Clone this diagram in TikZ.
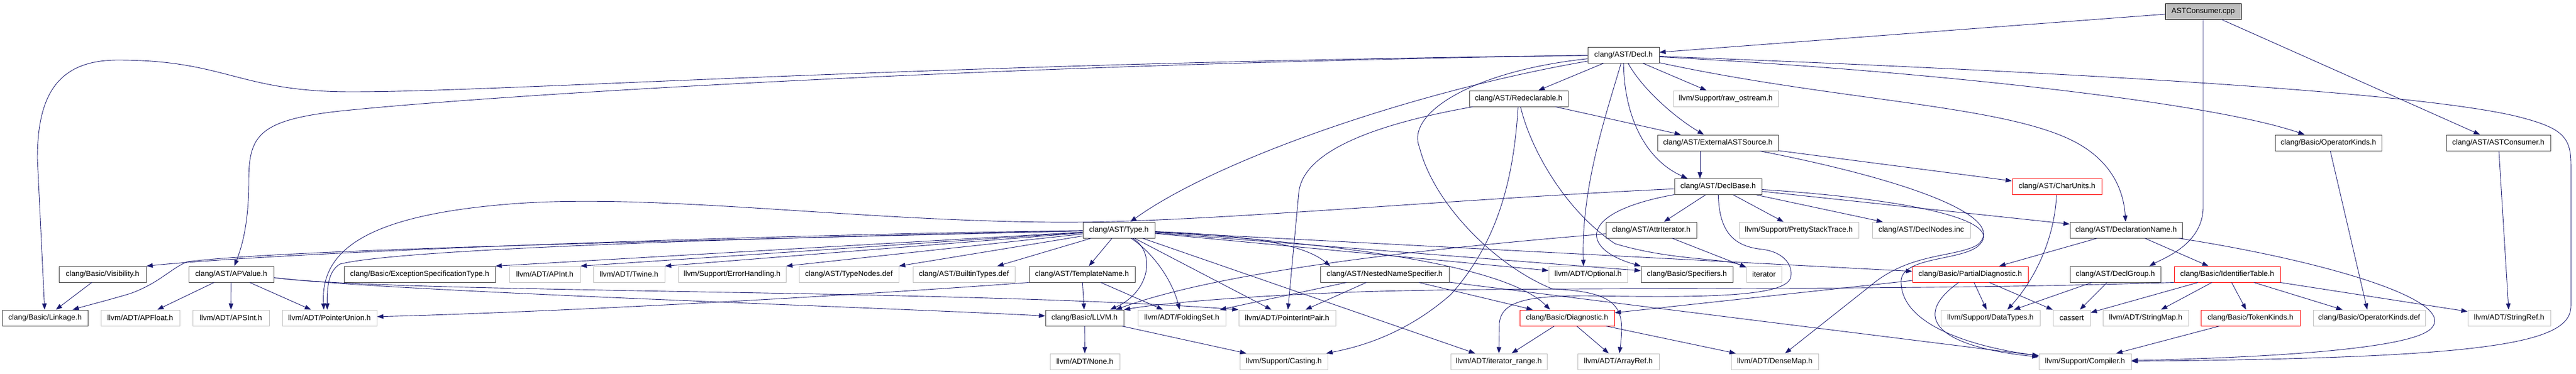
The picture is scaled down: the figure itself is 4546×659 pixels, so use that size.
\documentclass[tikz,border=0pt]{standalone}
\usepackage{fontspec}
\setmainfont{Liberation Sans}
\usetikzlibrary{arrows.meta}
\definecolor{edgec}{HTML}{191970}
\definecolor{grayb}{HTML}{BFBFBF}
\definecolor{darkb}{HTML}{404040}
\newcommand\nfnt{\fontsize{13.3}{16}\selectfont}
\tikzset{
  nbox/.style={rectangle, draw=darkb, line width=1pt, fill=white, inner sep=0pt, minimum height=28pt, font=\nfnt, text=black},
  gbox/.style={nbox, draw=grayb},
  rbox/.style={nbox, draw=red},
  dep/.style={draw=edgec, line width=0.9pt, -{Triangle[length=11pt,width=8pt]}},
}
\begin{document}
\begin{tikzpicture}[x=1pt,y=-1pt]
\useasboundingbox (0,0) rectangle (4546,659);
% row 0
\node[nbox, fill=grayb, draw=black, minimum width=134pt] (cpp) at (3888,20) {ASTConsumer.cpp};
% row 1
\node[nbox, minimum width=126pt] (decl) at (2865,97) {clang/AST/Decl.h};
% row 2
\node[nbox, minimum width=174pt] (redecl) at (2680,174) {clang/AST/Redeclarable.h};
\node[gbox, minimum width=185pt] (rawos) at (3045.5,174) {llvm/Support/raw\_ostream.h};
% row 3
\node[nbox, minimum width=213pt] (extsrc) at (3031.5,252) {clang/AST/ExternalASTSource.h};
\node[nbox, minimum width=188pt] (opkh) at (4109,252) {clang/Basic/OperatorKinds.h};
\node[nbox, minimum width=184pt] (astcons) at (4409,252) {clang/AST/ASTConsumer.h};
% row 4
\node[nbox, minimum width=154pt] (declbase) at (3032,329.5) {clang/AST/DeclBase.h};
\node[rbox, minimum width=158pt] (charunits) at (3630,329.5) {clang/AST/CharUnits.h};
% row 5
\node[nbox, minimum width=127pt] (type) at (1974.5,406) {clang/AST/Type.h};
\node[nbox, minimum width=160pt] (attrit) at (2914,406) {clang/AST/AttrIterator.h};
\node[gbox, minimum width=211pt] (pst) at (3174.5,406) {llvm/Support/PrettyStackTrace.h};
\node[gbox, minimum width=173pt] (declnodes) at (3390.5,406) {clang/AST/DeclNodes.inc};
\node[nbox, minimum width=198pt] (declname) at (3752,406) {clang/AST/DeclarationName.h};
% row 6
\node[nbox, minimum width=154pt] (visib) at (181,484) {clang/Basic/Visibility.h};
\node[nbox, minimum width=150pt] (apvalue) at (408,484) {clang/AST/APValue.h};
\node[nbox, minimum width=267pt] (exspec) at (740.5,484) {clang/Basic/ExceptionSpecificationType.h};
\node[gbox, minimum width=125pt] (apint) at (961.5,484) {llvm/ADT/APInt.h};
\node[gbox, minimum width=126pt] (twine) at (1110,484) {llvm/ADT/Twine.h};
\node[gbox, minimum width=190pt] (errh) at (1292,484) {llvm/Support/ErrorHandling.h};
\node[gbox, minimum width=176pt] (typenodes) at (1498,484) {clang/AST/TypeNodes.def};
\node[gbox, minimum width=180pt] (builtin) at (1701,484) {clang/AST/BuiltinTypes.def};
\node[nbox, minimum width=187pt] (tmplname) at (1909.5,484) {clang/AST/TemplateName.h};
\node[nbox, minimum width=227pt] (nns) at (2443.5,484) {clang/AST/NestedNameSpecifier.h};
\node[gbox, minimum width=139pt] (optional) at (2802.5,484) {llvm/ADT/Optional.h};
\node[nbox, minimum width=162pt] (specifiers) at (2977,484) {clang/Basic/Specifiers.h};
\node[gbox, minimum width=62pt] (iterator) at (3113,484) {iterator};
\node[rbox, minimum width=204pt] (partdiag) at (3477,484) {clang/Basic/PartialDiagnostic.h};
\node[nbox, minimum width=160pt] (declgroup) at (3733,484) {clang/AST/DeclGroup.h};
\node[rbox, minimum width=187pt] (identtab) at (3930.5,484) {clang/Basic/IdentifierTable.h};
% row 7
\node[nbox, minimum width=151pt] (linkage) at (79.5,561) {clang/Basic/Linkage.h};
\node[gbox, minimum width=139pt] (apfloat) at (247.5,561) {llvm/ADT/APFloat.h};
\node[gbox, minimum width=135pt] (apsint) at (407.5,561) {llvm/ADT/APSInt.h};
\node[gbox, minimum width=167pt] (ptrunion) at (581.5,561) {llvm/ADT/PointerUnion.h};
\node[nbox, minimum width=138pt] (llvmh) at (1914,561) {clang/Basic/LLVM.h};
\node[gbox, minimum width=155pt] (foldingset) at (2085.5,561) {llvm/ADT/FoldingSet.h};
\node[gbox, minimum width=171pt] (ptrintpair) at (2271.5,561) {llvm/ADT/PointerIntPair.h};
\node[rbox, minimum width=167pt] (diag) at (2765.5,561) {clang/Basic/Diagnostic.h};
\node[gbox, minimum width=175pt] (datatypes) at (3512.5,561) {llvm/Support/DataTypes.h};
\node[gbox, minimum width=66pt] (cassert) at (3656,561) {cassert};
\node[gbox, minimum width=151pt] (stringmap) at (3786.5,561) {llvm/ADT/StringMap.h};
\node[rbox, minimum width=175pt] (tokenkinds) at (3971.5,561) {clang/Basic/TokenKinds.h};
\node[gbox, minimum width=198pt] (opkdef) at (4181,561) {clang/Basic/OperatorKinds.def};
\node[gbox, minimum width=146pt] (stringref) at (4428,561) {llvm/ADT/StringRef.h};
% row 8
\node[gbox, minimum width=123pt] (none) at (1914.5,638) {llvm/ADT/None.h};
\node[gbox, minimum width=155pt] (casting) at (2265.5,638) {llvm/Support/Casting.h};
\node[gbox, minimum width=170pt] (itrange) at (2645,638) {llvm/ADT/iterator\_range.h};
\node[gbox, minimum width=144pt] (arrayref) at (2856,638) {llvm/ADT/ArrayRef.h};
\node[gbox, minimum width=154pt] (densemap) at (3132,638) {llvm/ADT/DenseMap.h};
\node[gbox, minimum width=163pt] (compiler) at (3679.5,638) {llvm/Support/Compiler.h};

% ---- edges ----
% ASTConsumer.cpp
\draw[dep] (cpp) -- (decl);
\draw[dep] (cpp) -- (astcons);
\draw[dep] (cpp.south) -- (3888,365) .. controls (3888,430) and (3820,455) .. ([xshift=60pt]declgroup.north);
\draw[dep] (astcons) -- (stringref);
\draw[dep] (opkh) -- (opkdef);
% Decl.h
\draw[dep] (decl) .. controls (1600,112) and (900,162) .. (620,162) .. controls (420,162) and (400,106) .. (208,106) .. controls (100,106) and (66,170) .. (66,280) -- (linkage);
\draw[dep] (decl) .. controls (1800,112) and (900,165) .. (600,196) .. controls (455,212) and (439,240) .. (439,320) .. controls (439,400) and (425,440) .. (apvalue);
\draw[dep] (decl) .. controls (2500,160) and (2150,280) .. (type);
\draw[dep] (decl) .. controls (2600,125) and (2480,200) .. (2505,260) .. controls (2530,360) and (2640,470) .. (2740,510) .. controls (2860,515) and (2868,545) .. (arrayref);
\draw[dep] (decl) -- (redecl);
\draw[dep] (decl) -- (rawos);
\draw[dep] (decl) .. controls (2900,160) and (2960,210) .. (extsrc);
\draw[dep] (decl) .. controls (2866,200) and (2900,280) .. ([xshift=-54pt]declbase.north);
\draw[dep] (decl) .. controls (2835,200) and (2790,330) .. ([xshift=-8pt]optional.north);
\draw[dep] (decl) .. controls (3400,125) and (3900,180) .. (opkh);
\draw[dep] (decl) .. controls (3600,125) and (4250,160) .. (4440,205) .. controls (4520,225) and (4537,240) .. (4537,290) -- (4537,540) .. controls (4537,605) and (4400,632) .. (compiler);
\draw[dep] (decl) .. controls (3250,180) and (3550,185) .. (3670,255) .. controls (3730,290) and (3748,340) .. (declname);
% Redeclarable.h
\draw[dep] (redecl) -- (extsrc);
\draw[dep] (redecl) .. controls (2450,215) and (2300,260) .. (2292,340) -- (ptrintpair);
\draw[dep] (redecl) .. controls (2672,300) and (2650,420) .. (2560,520) .. controls (2480,590) and (2400,612) .. (casting);
\draw[dep] (redecl) .. controls (2700,260) and (2760,370) .. (2850,430) .. controls (2950,460) and (3040,455) .. (iterator);
% ExternalASTSource.h
\draw[dep] ([xshift=-31.5pt]extsrc.south) -- ([xshift=-32pt]declbase.north);
\draw[dep] (extsrc) -- (charunits);
\draw[dep] (extsrc) .. controls (3380,320) and (3545,385) .. (3490,432) .. controls (3450,455) and (3370,445) .. (3300,505) -- (densemap);
% DeclBase.h
\draw[dep] (declbase) -- (attrit);
\draw[dep] (declbase) .. controls (2780,375) and (2790,440) .. (specifiers.north west);
\draw[dep] (declbase) -- (pst);
\draw[dep] (declbase) -- (declnodes);
\draw[dep] (declbase) -- (declname);
\draw[dep] (declbase) .. controls (2500,355) and (2100,395) .. (1850,392) .. controls (1500,389) and (1150,340) .. (900,360) .. controls (650,380) and (565,440) .. ([xshift=-10pt]ptrunion.north);
\draw[dep] (declbase) .. controls (3034,410) and (3060,435) .. (3110,440) .. controls (3150,445) and (3165,470) .. (3160,490) .. controls (3150,525) and (3000,525) .. (2800,522) .. controls (2700,522) and (2650,530) .. (2646,570) -- (itrange);
\draw[dep] (declbase) .. controls (3350,350) and (3535,385) .. (3495,430) .. controls (3470,462) and (3350,450) .. (3355,500) .. controls (3358,580) and (3500,615) .. (compiler);
% AttrIterator.h
\draw[dep] (attrit) .. controls (2500,440) and (2150,480) .. ([xshift=55pt]llvmh.north);
\draw[dep] (attrit) -- (iterator);
% DeclarationName.h
\draw[dep] (declname) -- (partdiag);
\draw[dep] (declname) -- (identtab);
\draw[dep] (declname) .. controls (4100,460) and (4340,530) .. (4290,580) .. controls (4250,620) and (3950,632) .. (compiler);
% DeclGroup.h
\draw[dep] (declgroup) -- (datatypes);
\draw[dep] (declgroup) -- (cassert);
% CharUnits.h
\draw[dep] (charunits) .. controls (3625,430) and (3585,500) .. ([xshift=30pt]datatypes.north);
% PartialDiagnostic.h
\draw[dep] (partdiag) -- (datatypes);
\draw[dep] (partdiag) -- (cassert);
\draw[dep] (partdiag) .. controls (3370,560) and (3420,612) .. (compiler);
\draw[dep] (partdiag) -- (diag);
% IdentifierTable.h
\draw[dep] (identtab) -- (stringmap);
\draw[dep] (identtab) -- (tokenkinds);
\draw[dep] (identtab) -- (opkdef);
\draw[dep] (identtab) -- (stringref);
\draw[dep] (identtab) -- (cassert);
\draw[dep] (identtab.south west) .. controls (3300,515) and (2700,505) .. (2400,515) .. controls (2200,522) and (2050,535) .. (llvmh.north east);
% TokenKinds.h
\draw[dep] (tokenkinds) -- (compiler);
% NestedNameSpecifier.h
\draw[dep] (nns) -- (ptrintpair);
\draw[dep] (nns) -- (diag);
\draw[dep] (nns) -- (compiler);
\draw[dep] (nns) -- (foldingset);
% TemplateName.h
\draw[dep] (tmplname) -- (llvmh);
\draw[dep] (tmplname) -- (foldingset);
\draw[dep] (tmplname.south west) .. controls (1500,522) and (1000,550) .. (ptrunion);
% LLVM.h
\draw[dep] (llvmh) -- (none);
\draw[dep] (llvmh) -- (casting);
% Diagnostic.h
\draw[dep] (diag) -- (itrange);
\draw[dep] (diag) -- (arrayref);
\draw[dep] (diag) -- (densemap);
% APValue.h
\draw[dep] (apvalue) -- (apfloat);
\draw[dep] (apvalue) -- (apsint);
\draw[dep] (apvalue) -- (ptrunion);
\draw[dep] ([yshift=-6pt]apvalue.east) .. controls (700,515) and (1500,540) .. (llvmh);
\draw[dep] ([yshift=-6pt]apvalue.east) .. controls (700,518) and (1700,510) .. (ptrintpair.north west);
% Visibility.h
\draw[dep] (visib) -- (linkage);
% Type.h
\draw[dep] (type) .. controls (1300,415) and (500,445) .. (visib.north east);
\draw[dep] (type) .. controls (1200,425) and (500,440) .. (330,462) .. controls (300,475) and (280,500) .. (230,518) .. controls (190,530) and (150,540) .. (linkage);
\draw[dep] (type) .. controls (1300,420) and (700,440) .. (600,466) .. controls (580,478) and (577,505) .. ([xshift=-4pt]ptrunion.north);
\draw[dep] (type) -- (exspec.north east);
\draw[dep] (type) -- (apint.north east);
\draw[dep] (type) -- (twine.north east);
\draw[dep] (type) -- (errh.north east);
\draw[dep] (type) -- (typenodes.north east);
\draw[dep] (type) -- ([xshift=59pt]builtin.north);
\draw[dep] (type) -- (tmplname);
\draw[dep] (type) .. controls (2040,445) and (2030,515) .. ([xshift=45pt]llvmh.north);
\draw[dep] (type) .. controls (2040,450) and (2070,500) .. (foldingset);
\draw[dep] (type) -- (ptrintpair);
\draw[dep] (type) .. controls (2200,415) and (2300,430) .. ([xshift=18pt]nns.north west);
\draw[dep] (type) -- (optional);
\draw[dep] (type) -- (specifiers);
\draw[dep] (type) .. controls (2300,425) and (2650,460) .. ([xshift=-30pt]diag.north);
\draw[dep] (type) -- (partdiag);
\draw[dep] (type) -- (itrange);
\end{tikzpicture}
\end{document}
